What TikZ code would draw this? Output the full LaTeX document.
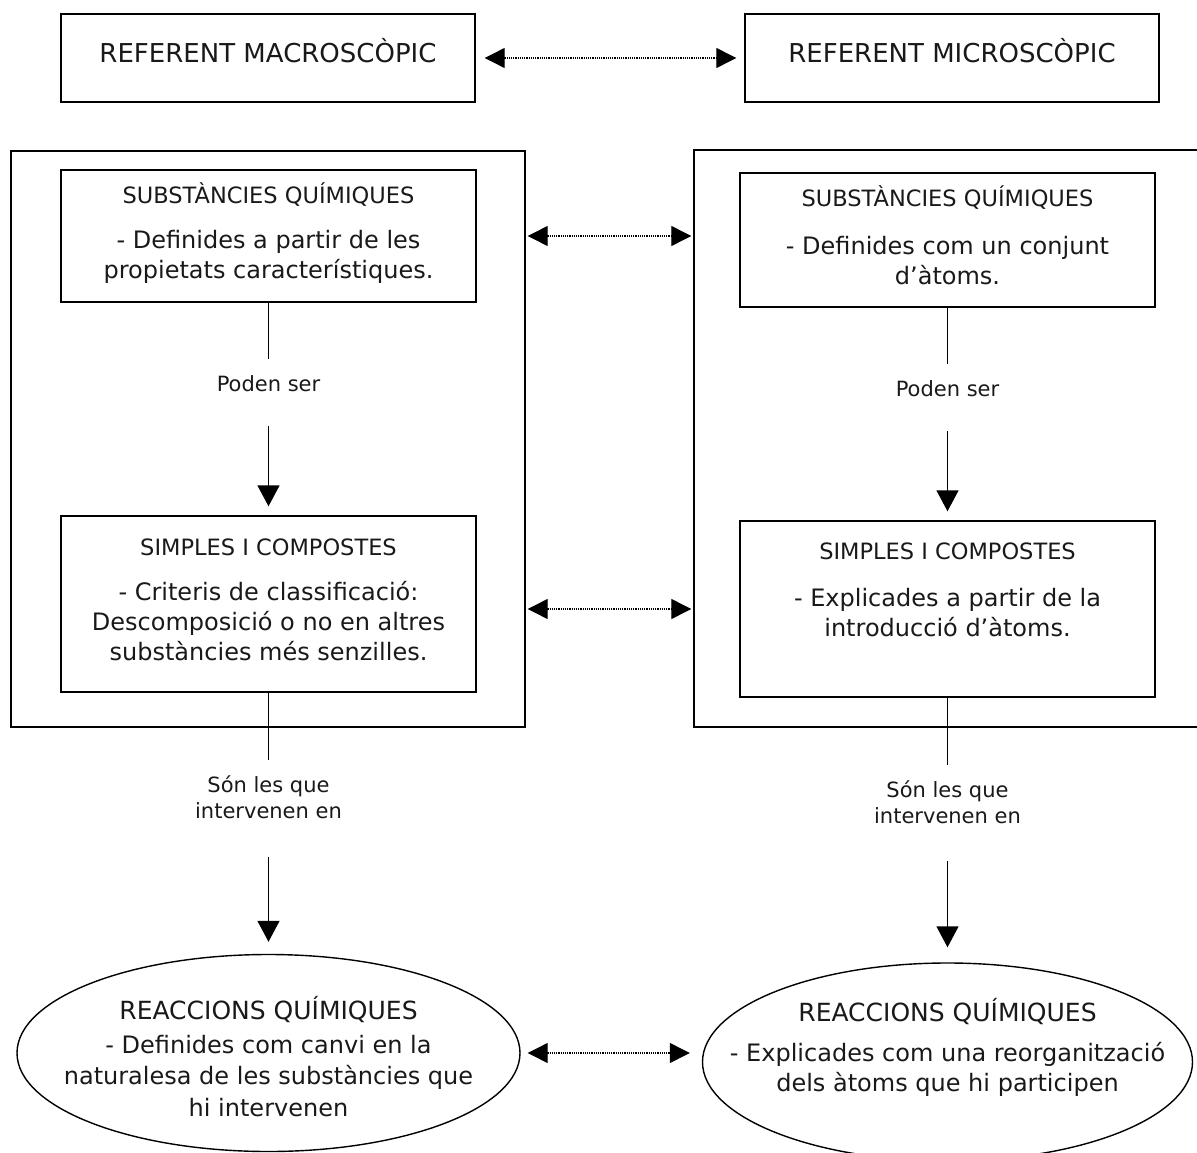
\documentclass[tikz,border=0pt]{standalone}
\usepackage{fontspec}
\setmainfont{DejaVu Sans}
\usetikzlibrary{arrows.meta,shapes.geometric}

% font sizes (with matching line spacing for the tabular rows)
\newcommand{\reffont}{\fontsize{26}{30}\selectfont}
\newcommand{\headfont}{\fontsize{22.5}{30}\selectfont}
\newcommand{\ovalhead}{\fontsize{25}{30}\selectfont}
\newcommand{\bodyfont}{\fontsize{24}{30}\selectfont}
\newcommand{\ovalbody}{\fontsize{24}{31.5}\selectfont}
\newcommand{\labelfont}{\fontsize{21}{26.5}\selectfont}

\begin{document}
\begin{tikzpicture}[x=1pt,y=-1pt,
  box/.style={draw, line width=1.4pt, rectangle, inner sep=0pt},
  oval/.style={draw, line width=1.4pt, ellipse, inner sep=0pt},
  txt/.style={anchor=base, inner sep=0pt, text=black!90, font=\bodyfont},
  lbl/.style={anchor=base, inner sep=0pt, text=black!90, font=\labelfont},
  link/.style={line width=1.4pt, shorten >=13pt},
  flow/.style={line width=1.4pt, shorten <=27pt,
    -{Triangle[length=21pt,width=22pt]}},
  both/.style={line width=1.2pt, dash pattern=on 1.1pt off 1.1pt,
    {Triangle[length=20pt,width=20pt]}-{Triangle[length=20pt,width=20pt]}},
]
\useasboundingbox (0,0) rectangle (1197,1153);
\clip (0,0) rectangle (1197,1153);

% --- top reference boxes
\node[box, minimum width=414pt, minimum height=88pt] (refL) at (268,58) {};
\node[box, minimum width=414pt, minimum height=88pt] (refR) at (952,58) {};
\node[txt, font=\reffont] (refLt) at (268,63) {REFERENT MACROSCÒPIC};
\node[txt, font=\reffont] (refRt) at (952,63) {REFERENT MICROSCÒPIC};

% --- outer frames
\node[box, minimum width=514pt, minimum height=576pt] (outL) at (268,439) {};
\node[box, minimum width=511pt, minimum height=577pt] (outR) at (949.5,438.5) {};

% --- inner boxes
\node[box, minimum width=415pt, minimum height=132pt] (topL) at (268.5,236) {};
\node[box, minimum width=415pt, minimum height=134pt] (topR) at (947.5,240) {};
\node[box, minimum width=415pt, minimum height=176pt] (botL) at (268.5,604) {};
\node[box, minimum width=415pt, minimum height=176pt] (botR) at (947.5,609) {};

\node[txt] (topLt) at (268.5,204) {\begin{tabular}[t]{@{}c@{}}
  \headfont SUBSTÀNCIES QUÍMIQUES\\[14pt]
  - Definides a partir de les\\
  propietats característiques.\end{tabular}};
\node[txt] (topRt) at (947.5,206) {\begin{tabular}[t]{@{}c@{}}
  \headfont SUBSTÀNCIES QUÍMIQUES\\[18pt]
  - Definides com un conjunt\\
  d’àtoms.\end{tabular}};
\node[txt] (botLt) at (268.5,555) {\begin{tabular}[t]{@{}c@{}}
  \headfont SIMPLES I COMPOSTES\\[15pt]
  - Criteris de classificació:\\
  Descomposició o no en altres\\
  substàncies més senzilles.\end{tabular}};
\node[txt] (botRt) at (947.5,559) {\begin{tabular}[t]{@{}c@{}}
  \headfont SIMPLES I COMPOSTES\\[17pt]
  - Explicades a partir de la\\
  introducció d’àtoms.\end{tabular}};

% --- reaction ellipses
\node[oval, minimum width=503pt, minimum height=197pt] (ellL) at (268.5,1053) {};
\node[oval, minimum width=490pt, minimum height=198pt] (ellR) at (947.5,1062) {};
\node[txt, font=\ovalbody] (ellLt) at (268.5,1019) {\begin{tabular}[t]{@{}c@{}}
  \ovalhead REACCIONS QUÍMIQUES\\[2.5pt]
  - Definides com canvi en la\\
  naturalesa de les substàncies que\\
  hi intervenen\end{tabular}};
\node[txt] (ellRt) at (947.5,1021) {\begin{tabular}[t]{@{}c@{}}
  \ovalhead REACCIONS QUÍMIQUES\\[10pt]
  - Explicades com una reorganització\\
  dels àtoms que hi participen\end{tabular}};

% --- connector labels
\node[lbl] (pL) at (268.5,391) {\begin{tabular}[t]{@{}c@{}}Poden ser\end{tabular}};
\node[lbl] (pR) at (947.5,396) {\begin{tabular}[t]{@{}c@{}}Poden ser\end{tabular}};
\node[lbl] (sL) at (268.5,792) {\begin{tabular}[t]{@{}c@{}}Són les que\\intervenen en\end{tabular}};
\node[lbl] (sR) at (947.5,797) {\begin{tabular}[t]{@{}c@{}}Són les que\\intervenen en\end{tabular}};

% --- vertical connectors
\draw[link] (topL.south) -- (pL.north);
\draw[flow, shorten >=9pt] (pL.south) -- (botL.north);
\draw[link] (topR.south) -- (pR.north);
\draw[flow, shorten >=9pt] (pR.south) -- (botR.north);
\draw[link] (botL.south) -- (sL.north);
\draw[flow, shorten <=30pt, shorten >=12pt] (sL.south) -- (ellL.north);
\draw[link] (botR.south) -- (sR.north);
\draw[flow, shorten <=29pt, shorten >=15pt] (sR.south) -- (ellR.north);

% --- dotted correspondences between the two levels
\draw[both, shorten <=9pt, shorten >=8pt] (refL.east) -- (refR.west);
\draw[both, shorten <=2pt, shorten >=2pt] (outL.east |- topL.center) -- (outR.west |- topL.center);
\draw[both, shorten <=2pt, shorten >=2pt] (outL.east |- botR.center) -- (outR.west |- botR.center);
\draw[both, shorten <=7pt, shorten >=12pt] (ellL.east) -- (ellL.east -| ellR.west);
\end{tikzpicture}
\end{document}
